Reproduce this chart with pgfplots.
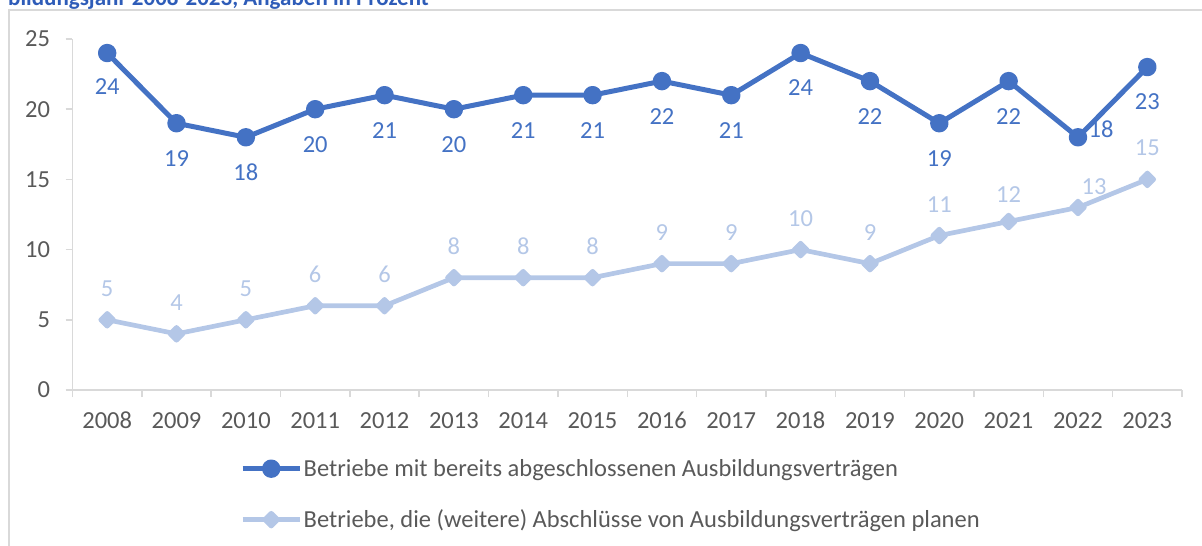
\documentclass[border=0pt]{standalone}
\usepackage{fontspec}
\setmainfont{Carlito}
\usepackage{pgfplots}
\usepackage{pgfplotstable}
\pgfplotsset{compat=1.18}

\definecolor{darkblue}{HTML}{4472C4}
\definecolor{lightblue}{HTML}{B4C7E7}
\definecolor{labelgray}{HTML}{595959}
\definecolor{framegray}{HTML}{D9D9D9}
\definecolor{titleblue}{HTML}{2E5CB8}

\newcommand{\chartfont}{\fontsize{24.5}{29}\selectfont}

% dx, dy: offset of the data label from its point
\pgfplotstableread{
year val dx dy
2008 24 0 -34
2009 19 0 -35
2010 18 0 -35
2011 20 0 -35
2012 21 0 -35
2013 20 0 -35
2014 21 0 -35
2015 21 0 -35
2016 22 0 -35
2017 21 0 -35
2018 24 0 -35
2019 22 0 -35
2020 19 0 -35
2021 22 0 -35
2022 18 23 8
2023 23 0 -35
}\abgeschlossen

\pgfplotstableread{
year val dx dy
2008 5 0 31
2009 4 0 31
2010 5 0 31
2011 6 0 31
2012 6 0 31
2013 8 0 31
2014 8 0 31
2015 8 0 31
2016 9 0 31
2017 9 0 31
2018 10 0 31
2019 9 0 31
2020 11 0 31
2021 12 0 27
2022 13 16 21
2023 15 0 32
}\geplant

\begin{document}
\begin{tikzpicture}[x=1pt,y=1pt]
\useasboundingbox (0,0) rectangle (1202,546);
\clip (0,0) rectangle (1202,546);
\draw[framegray, line width=2pt] (9,-5) -- (9,536) -- (1210,536);
\node[anchor=base west, inner sep=0pt, text=titleblue,
  font=\bfseries\fontsize{23}{26}\selectfont] at (8,540)
  {bildungsjahr 2008-2023, Angaben in Prozent};

\begin{axis}[
  at={(72.5pt,156pt)}, anchor=south west,
  scale only axis, width=1109.5pt, height=351pt,
  xmin=2007.5, xmax=2023.5, ymin=0, ymax=25,
  axis lines=left,
  axis line style={draw=framegray, line width=1.5pt, -},
  xtick={2008,...,2023},
  minor xtick={2007.5,2008.5,2009.5,2010.5,2011.5,2012.5,2013.5,2014.5,
    2015.5,2016.5,2017.5,2018.5,2019.5,2020.5,2021.5,2022.5,2023.5},
  ytick={0,5,...,25},
  tick align=outside,
  major tick length=7pt, minor tick length=7pt,
  major x tick style={draw=none},
  minor x tick style={draw=framegray, line width=1.5pt},
  major y tick style={draw=framegray, line width=1.5pt},
  tick label style={font=\chartfont, text=labelgray},
  xticklabel style={yshift=-12pt, text height=16pt, text depth=0pt},
  yticklabel style={xshift=-12pt},
  /pgf/number format/1000 sep={},
  /pgf/number format/assume math mode=true,
  clip=false,
  legend cell align=left,
  legend style={at={(0.1510,-0.193)}, anchor=north west,
    draw=none, fill=none, inner sep=0pt, row sep=29pt,
    font=\chartfont, nodes={inner sep=1.5pt, text=labelgray}},
  legend image code/.code={
    \draw[mark repeat=2, mark phase=2, #1]
      plot coordinates {(0pt,0pt) (28.5pt,0pt) (57pt,0pt)};},
]
\addplot[darkblue, line width=5pt, line join=round,
  mark=*, mark size=6.7pt, mark options={solid},
  nodes near coords,
  visualization depends on={\thisrow{dx} \as \dx},
  visualization depends on={\thisrow{dy} \as \dy},
  every node near coord/.append style={anchor=center,
    xshift=\dx pt, yshift=\dy pt, text=darkblue, font=\chartfont}]
  table[x=year, y=val] {\abgeschlossen};
\addlegendentry{Betriebe mit bereits abgeschlossenen Ausbildungsverträgen}

\addplot[lightblue, line width=4.7pt, line join=round,
  mark=square*, mark size=4.5pt, mark options={solid, rotate=45},
  nodes near coords,
  visualization depends on={\thisrow{dx} \as \dx},
  visualization depends on={\thisrow{dy} \as \dy},
  every node near coord/.append style={anchor=center,
    xshift=\dx pt, yshift=\dy pt, text=lightblue, font=\chartfont}]
  table[x=year, y=val] {\geplant};
\addlegendentry{Betriebe, die (weitere) Abschlüsse von Ausbildungsverträgen planen}
\end{axis}
\end{tikzpicture}
\end{document}
